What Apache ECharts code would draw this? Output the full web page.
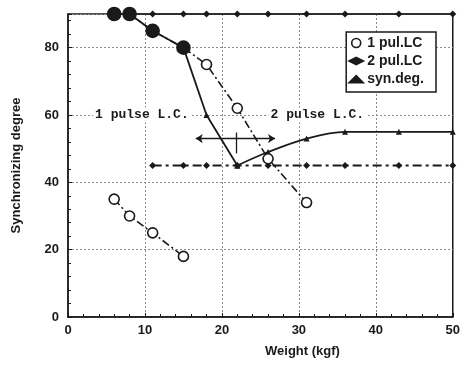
<!DOCTYPE html>
<html>
<head>
<meta charset="utf-8">
<script src="https://cdn.jsdelivr.net/npm/echarts@6/dist/echarts.min.js"></script>
<style>
  html, body { margin: 0; padding: 0; background: #fff; }
  #container { width: 463px; height: 369px; }
</style>
</head>
<body>
<div id="container"></div>
<script>
// data
var onePulHigh = [[6, 90], [8, 90], [11, 85], [15, 80], [18, 75], [22, 62], [26, 47], [31, 34]];
var onePulLow = [[6, 35], [8, 30], [11, 25], [15, 18]];
var filledUpTo = 4; // first points of the upper 1 pul.LC branch are drawn filled
var twoPulTop = [[6, 90], [8, 90], [11, 90], [15, 90], [18, 90], [22, 90], [26, 90], [31, 90], [36, 90], [43, 90], [50, 90]];
var twoPulMid = [[11, 45], [15, 45], [18, 45], [22, 45], [26, 45], [31, 45], [36, 45], [43, 45], [50, 45]];
var synDegFall = [[8, 90], [11, 85], [15, 80], [18, 60], [22, 45]];
var synDegRise = [[22, 45], [26, 49], [31, 53], [36, 55], [43, 55], [50, 55]];
var xTicks = [0, 50, 10];
var yTicks = [0, 90, 20];
var rangeArrow = [[16.6, 53], [26.9, 53]];
var rangeMark = [[21.9, 54.8], [21.9, 48.6]];
var labels = [
  {text: '1 pulse L.C.', coord: [9.6, 60]},
  {text: '2 pulse L.C.', coord: [32.4, 60]}
];

var ink = '#1a1a1a';

var dom = document.getElementById('container');
var myChart = echarts.init(dom);

var highData = onePulHigh.map(function (p, i) {
  if (i < filledUpTo) {
    return {value: p, symbolSize: 13, itemStyle: {color: ink, borderColor: ink}};
  }
  return {value: p};
});

option = {
  animation: false,
  grid: {left: 68, right: 5, top: 14, bottom: 52, show: true, borderColor: ink, borderWidth: 1.5},
  legend: {
    right: 27, top: 32,
    orient: 'vertical',
    itemGap: 4,
    itemWidth: 18, itemHeight: 9,
    padding: [4, 12, 6, 1],
    backgroundColor: '#fff',
    borderColor: ink, borderWidth: 1.5,
    textStyle: {color: ink, fontFamily: 'Liberation Sans', fontWeight: 'bold', fontSize: 14, padding: [0, 0, 0, -3]},
    data: [
      {name: '1 pul.LC', icon: 'circle',
        itemStyle: {color: '#fff', borderColor: ink, borderWidth: 1.6},
        lineStyle: {color: ink, width: 1.6}},
      {name: '2 pul.LC', icon: 'diamond'},
      {name: 'syn.deg.', icon: 'triangle'}
    ]
  },
  xAxis: {
    type: 'value', min: xTicks[0], max: xTicks[1], interval: xTicks[2],
    axisLine: {show: true, onZero: false, lineStyle: {color: ink, width: 1.5}},
    axisTick: {inside: true, length: 4, lineStyle: {color: ink}},
    minorTick: {show: true, splitNumber: 5, length: 3, lineStyle: {color: ink}},
    axisLabel: {color: ink, fontFamily: 'Liberation Sans', fontWeight: 'bold', fontSize: 13, margin: 7},
    splitLine: {show: true, lineStyle: {color: '#888', type: [2, 2], width: 1}}
  },
  yAxis: {
    type: 'value', min: yTicks[0], max: yTicks[1], interval: yTicks[2],
    name: 'Synchronizing degree',
    nameLocation: 'middle', nameGap: 45,
    nameTextStyle: {color: ink, fontFamily: 'Liberation Sans', fontWeight: 'bold', fontSize: 13},
    axisLine: {show: true, onZero: false, lineStyle: {color: ink, width: 1.5}},
    axisTick: {inside: true, length: 4, lineStyle: {color: ink}},
    minorTick: {show: true, splitNumber: 5, length: 3, lineStyle: {color: ink}},
    axisLabel: {color: ink, fontFamily: 'Liberation Sans', fontWeight: 'bold', fontSize: 13, margin: 9, showMaxLabel: false},
    splitLine: {show: true, lineStyle: {color: '#888', type: [2, 2], width: 1}}
  },
  graphic: [{
    type: 'text', left: 265, top: 345,
    style: {text: 'Weight (kgf)', fill: ink, font: 'bold 13px "Liberation Sans"'}
  }],
  series: [
    {
      name: '2 pul.LC', type: 'line', data: twoPulTop,
      symbol: 'diamond', symbolSize: 7,
      itemStyle: {color: ink},
      lineStyle: {color: ink, width: 1.5}
    },
    {
      name: '2 pul.LC', type: 'line', data: twoPulMid,
      symbol: 'diamond', symbolSize: 7,
      itemStyle: {color: ink},
      lineStyle: {color: ink, width: 1.8, type: [9, 4, 3, 4]}
    },
    {
      name: 'syn.deg.', type: 'line', data: synDegFall,
      symbol: 'triangle', symbolSize: 6,
      itemStyle: {color: ink},
      lineStyle: {color: ink, width: 1.8}
    },
    {
      name: 'syn.deg.', type: 'line', data: synDegRise,
      symbol: 'triangle', symbolSize: 6, smooth: 0.35,
      itemStyle: {color: ink},
      lineStyle: {color: ink, width: 1.8},
      markLine: {
        silent: true, symbol: ['none', 'none'], label: {show: false},
        lineStyle: {color: ink, width: 1.3, type: 'solid'},
        data: [
          [{coord: rangeArrow[0], symbol: 'arrow', symbolSize: 7}, {coord: rangeArrow[1], symbol: 'arrow', symbolSize: 7}],
          [{coord: rangeMark[0]}, {coord: rangeMark[1]}]
        ]
      },
      markPoint: {
        silent: true, symbol: 'rect', symbolSize: [1, 1],
        itemStyle: {color: 'transparent'},
        label: {
          show: true, position: 'inside', color: ink,
          fontFamily: 'Liberation Mono', fontWeight: 'bold', fontSize: 13,
          backgroundColor: '#fff', padding: [1, 2],
          formatter: function (p) { return p.name; }
        },
        data: labels.map(function (l) { return {name: l.text, coord: l.coord}; })
      }
    },
    {
      name: '1 pul.LC', type: 'line', data: highData,
      symbol: 'circle', symbolSize: 10,
      itemStyle: {color: '#fff', borderColor: ink, borderWidth: 1.6},
      lineStyle: {color: ink, width: 1.6, type: [8, 3, 2, 3]}
    },
    {
      name: '1 pul.LC', type: 'line', data: onePulLow,
      symbol: 'circle', symbolSize: 10,
      itemStyle: {color: '#fff', borderColor: ink, borderWidth: 1.6},
      lineStyle: {color: ink, width: 1.6, type: [8, 3, 2, 3]}
    }
  ]
};

if (option && typeof option === "object") {
  myChart.setOption(option, true);
}
</script>
</body>
</html>
